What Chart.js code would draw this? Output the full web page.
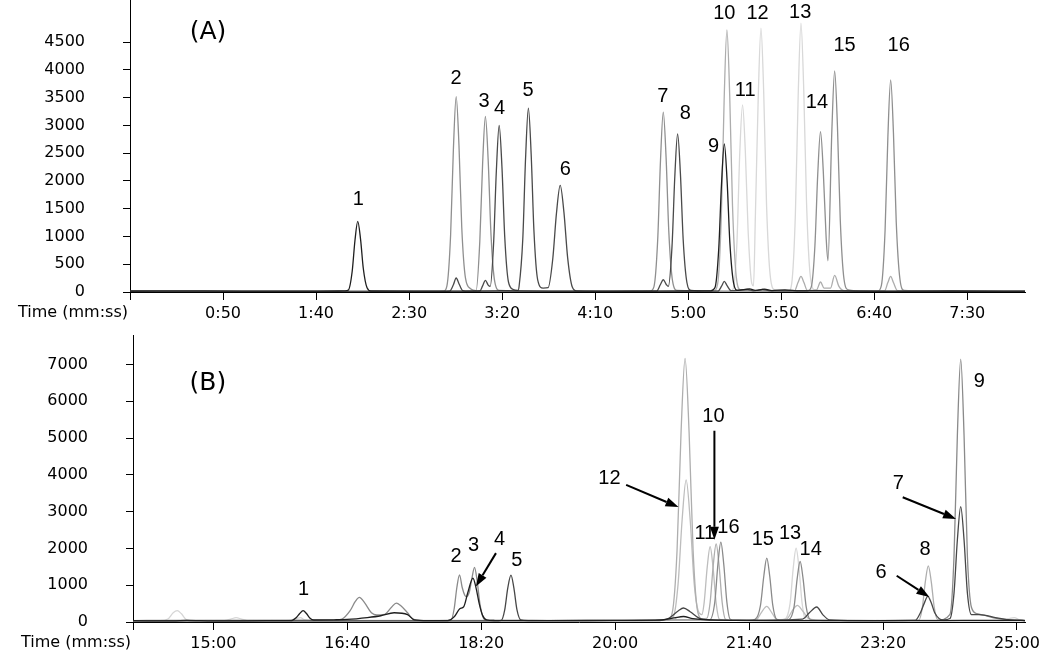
<!DOCTYPE html>
<html>
<head>
<meta charset="utf-8">
<script src="https://cdn.jsdelivr.net/npm/chart.js@4.4.1/dist/chart.umd.min.js"></script>
<style>
  body { margin: 0; background: #fff; }
  canvas { position: absolute; left: 0; }
  #chartA { top: 0; }
  #chartB { top: 327px; }
</style>
</head>
<body>
<canvas id="chartA" width="1050" height="327"></canvas>
<canvas id="chartB" width="1050" height="327"></canvas>
<script>
// ---- panel (A): time in seconds, intensity ----
const aXTicks = [0, 50, 100, 150, 200, 250, 300, 350, 400, 450];
const aYTicks = [0, 500, 1000, 1500, 2000, 2500, 3000, 3500, 4000, 4500];

const aBlack = [[0,18],[40,20],[80,15],[112,18],[115.5,20],
  [117.4,38],[119.4,369],[120.9,928],[122.4,1271],[123.9,953],[125.4,419],[127.4,76],[129.5,18],
  [160,15],[200,20],[250,15],[300,18],[312,20],
  [314.4,80],[316.4,774],[317.9,1948],[319.4,2669],[320.9,2002],[322.4,881],[324.4,160],[326.5,30],
  [333,55],[336,30],[341,50],[345,25],[352,40],[360,20],[400,15],[440,18],[481,15]];

const aDark = [[0,12],[100,10],[165,12],[170,12],
  [171.8,15],[173.8,130],[175.3,252],[176.8,150],[178.8,25],[182,15],
  [188,18],[189.5,110],[191,209],[192.5,125],[193.6,100],
  [195.4,870],[196.9,2189],[198.4,2999],[199.9,2249],[201.4,990],[203.4,180],[206,45],[208.5,30],
  [209.1,99],[211.1,960],[212.6,2417],[214.1,3311],[215.6,2483],[217.1,1093],[219.1,220],[222,70],
  [224.7,77],[227.2,595],[229.2,1420],[231.2,1919],[233.2,1440],[235.2,620],[237.7,90],[240,20],
  [260,12],[280,15],
  [283,15],[285,130],[286.6,221],[288.2,135],[289.3,100],
  [291.3,826],[292.8,2080],[294.3,2849],[295.8,2137],[297.3,940],[299.3,171],[301.5,30],
  [310,15],
  [316,15],[318,110],[319.4,191],[320.8,120],[323,25],
  [332,45],[335,20],[340,45],[344,20],[370,25],[400,12],[481,12]];

const aMid = [[0,10],[120,12],[166,12],[168.5,14],
  [170.3,106],[172.3,1021],[173.8,2570],[175.3,3521],[176.8,2641],[178.3,1162],[180.3,250],[183,60],[186,25],
  [188,917],[189.5,2307],[191,3161],[192.5,2371],[194,1043],[196,190],[198.5,30],
  [240,12],[279.5,14],
  [281.6,97],[283.6,940],[285.1,2365],[286.6,3240],[288.1,2430],[289.6,1069],[291.6,194],[294,30],
  [340,15],[364,16],
  [366.1,87],[368.1,838],[369.6,2110],[371.1,2890],[372.6,2168],[374.1,1000],[375.1,563],
  [377.2,2907],[378.7,3983],[380.2,2987],[381.7,1314],[383.7,239],[386,40],
  [395,15],[401.8,16],
  [403.8,115],[405.8,1108],[407.3,2789],[408.8,3821],[410.3,2866],[411.8,1261],[413.8,229],[416,30],
  [440,12],[481,12]];

const aLight = [[0,10],[200,10],[313.5,12],
  [315.8,142],[317.8,1369],[319.3,3446],[320.8,4721],[322.3,3541],[323.8,1558],[325.8,283],[328,40],
  [350,15],[357,15],[359,170],[360.6,281],[362.2,170],[364,30],
  [369,40],[371.1,180],[373,70],[376.5,70],[378.7,300],[381,100],[384,20],
  [405.5,20],[407.3,170],[408.8,281],[410.3,170],[412.5,25],[481,10]];

const aPale = [[0,10],[200,10],[322,10],
  [324.2,60],[326.2,900],[327.7,2500],[329.2,3371],[330.7,2530],[332.2,1100],[334.2,150],[335.1,110],
  [336.1,1378],[337.6,3468],[339.1,4751],[340.6,3563],[342.1,1568],[344.1,285],[346.5,40],
  [352,15],[354,16],
  [355.6,145],[357.6,1404],[359.1,3534],[360.6,4841],[362.1,3631],[363.6,1598],[365.6,290],[368,40],
  [400,10],[481,10]];

const aLabels = [['1',122.7,1661],['2',175.3,3839],['3',190.3,3431],['4',198.6,3299],['5',213.9,3629],
  ['6',233.9,2201],['7',286.4,3521],['8',298.4,3222],['9',313.6,2621],['10',319.4,5022],
  ['11',330.6,3629],['12',337.3,5022],['13',360.2,5040],['14',369.2,3413],['15',384.0,4438],['16',413.1,4438]];

// ---- panel (B) ----
const bXTicks = [840, 900, 1000, 1100, 1200, 1300, 1400, 1500];
const bYTicks = [0, 1000, 2000, 3000, 4000, 5000, 6000, 7000];

const bBlack = [[840,35],[870,30],[880,45],[900,30],[940,35],[958,40],
  [959,45],[962,120],[964.5,230],[967,307],[969.5,230],[972,110],[975,55],
  [990,60],[1000,70],[1015,120],[1025,170],[1035,252],[1045,200],[1050,60],[1060,40],
  [1075,40],[1080,150],[1084,360],[1087,420],[1090,800],[1093.8,1194],[1096,950],[1098.5,500],[1101,180],[1104,60],[1110,40],
  [1150,35],[1200,45],[1235,60],[1244,110],[1251,150],[1258,90],[1280,50],[1330,40],[1380,35],[1440,40],[1500,45],[1506,40]];

const bDark = [[840,30],[1110,30],
  [1115,45],[1117.5,320],[1119.8,918],[1122.2,1275],[1124.4,918],[1126.7,330],[1129.5,60],[1135,40],
  [1230,40],[1240,100],[1247,300],[1251,380],[1256,280],[1263,100],[1275,50],
  [1300,45],[1340,80],[1345,250],[1350.5,407],[1355,200],[1360,60],[1380,40],
  [1424,45],[1428,260],[1430.9,520],[1433.4,695],[1436,520],[1438.5,260],[1442,90],[1445,60],
  [1450,94],[1453,784],[1455.5,2227],[1458,3137],[1460.5,2227],[1463,784],[1466,200],[1472,200],[1485,110],[1495,60],[1506,40]];

const bMid = [[840,40],[870,45],[990,50],
  [996,80],[1002,300],[1006,560],[1009,668],[1013,520],[1018,250],[1022,190],
  [1028,210],[1033,400],[1036.6,515],[1040,440],[1045,250],[1049,80],[1055,40],
  [1077.3,45],[1079.8,360],[1081.8,937],[1083.8,1283],[1085.8,937],[1087.8,720],[1088.8,690],
  [1091,800],[1093,1180],[1095,1482],[1097,1100],[1099,500],[1101.5,120],[1104,45],
  [1150,40],[1200,45],[1240,60],
  [1270.5,60],[1274.4,543],[1276.7,1562],[1278.9,2170],[1281.1,1562],[1283.4,543],[1285.9,76],[1290,50],
  [1300,45],[1304.5,70],[1308.5,450],[1311,1250],[1313.2,1736],[1315.4,1250],[1317.7,450],[1320.7,70],[1326,45],
  [1329.5,60],[1333.6,420],[1335.9,1180],[1338.1,1644],[1340.3,1180],[1342.6,420],[1345.6,70],[1350,50],
  [1400,40],[1440,45],
  [1450,210],[1453,1786],[1455.5,5071],[1458,7143],[1460.5,5071],[1463,1786],[1466,400],[1470,230],[1476,180],[1485,100],[1495,60],[1506,45]];

const bLight = [[840,30],[1200,35],[1230,45],
  [1239.2,60],[1242.7,265],[1246.2,1934],[1249.2,5157],[1252.2,7162],[1255.2,5157],[1258.2,1934],[1261.7,265],[1265,90],
  [1268.4,100],[1270.9,531],[1273.2,1529],[1275.4,2124],[1277.6,1529],[1279.9,531],[1282.4,74],[1288,45],
  [1300,40],[1400,40],
  [1426.8,53],[1429.3,382],[1431.6,1099],[1433.8,1527],[1436,1099],[1438.3,382],[1440.8,60],[1446,40],[1506,35]];

const bLight2 = [[840,35],[1230,45],
  [1240,60],[1243.5,143],[1247,1042],[1250,2780],[1253,3861],[1256,2780],[1259,1042],[1262,300],[1264.7,200],
  [1266.4,513],[1268.7,1477],[1270.9,2051],[1273.1,1477],[1275.4,513],[1277.9,72],[1285,45],
  [1305,50],[1309,250],[1313.2,423],[1317,250],[1321,60],[1328,80],[1333,350],[1336,450],[1340,300],[1345,80],[1360,40],[1506,35]];

const bPale = [[840,30],[860,35],[866,80],[870,250],[873,307],[876,230],[880,60],[886,35],
  [908,35],[913,80],[917,117],[921,80],[926,35],[955,35],[962,90],[965,120],[968,60],[975,35],
  [1000,40],[1300,45],
  [1326.1,70],[1330.6,502],[1332.9,1445],[1335.1,2007],[1337.3,1445],[1339.6,502],[1342.1,70],[1348,45],
  [1490,40],[1494,90],[1498,120],[1502,60],[1506,40]];

const bLabels = [['1',967.4,876],['2',1081.3,1780],['3',1094.3,2070],['4',1113.7,2252],['5',1126.6,1671],
  ['12',1195.7,3907],['10',1273.4,5597],['11',1266.9,2415],['16',1284.6,2577],['15',1310.2,2252],
  ['13',1330.6,2396],['14',1346,1962],['8',1431.3,1962],['6',1398.5,1346],['7',1411.4,3771],['9',1471.9,6527]];

// arrows: [fromT, fromV, toT, toV]
const bArrows = [[1208.2,3725,1247.3,3124],[1111,1872,1096,966],[1274.1,5198,1274.1,2233],
  [1414.7,3391,1454.5,2802],[1410.2,1256,1434.6,678]];

function mmss(s) {
  const m = Math.floor(s / 60);
  const r = Math.round(s - m * 60);
  return m + ':' + String(r).padStart(2, '0');
}

function annot(tag, tagAt, labels, arrows) {
  return {
    id: 'annot',
    afterDatasetsDraw(chart) {
      const { ctx, chartArea, scales: { x, y } } = chart;
      ctx.save();
      ctx.fillStyle = '#000';
      ctx.strokeStyle = '#000';
      ctx.textAlign = 'center';
      ctx.textBaseline = 'middle';
      ctx.font = '20px "Liberation Sans", Arial, sans-serif';
      labels.forEach(([txt, t, v]) => ctx.fillText(txt, x.getPixelForValue(t), y.getPixelForValue(v)));

      ctx.lineWidth = 2;
      arrows.forEach(([t0, v0, t1, v1]) => {
        const x0 = x.getPixelForValue(t0), y0 = y.getPixelForValue(v0);
        const x1 = x.getPixelForValue(t1), y1 = y.getPixelForValue(v1);
        const ang = Math.atan2(y1 - y0, x1 - x0);
        const len = 13, hw = 4.5;
        const bx = x1 - len * Math.cos(ang), by = y1 - len * Math.sin(ang);
        ctx.beginPath();
        ctx.moveTo(x0, y0);
        ctx.lineTo(bx, by);
        ctx.stroke();
        ctx.beginPath();
        ctx.moveTo(x1, y1);
        ctx.lineTo(bx + hw * Math.sin(ang), by - hw * Math.cos(ang));
        ctx.lineTo(bx - hw * Math.sin(ang), by + hw * Math.cos(ang));
        ctx.closePath();
        ctx.fill();
      });

      ctx.font = '25px "DejaVu Sans", Verdana, sans-serif';
      ctx.fillText(tag, x.getPixelForValue(tagAt[0]), y.getPixelForValue(tagAt[1]));

      ctx.font = '16px "DejaVu Sans", Verdana, sans-serif';
      ctx.textAlign = 'right';
      ctx.fillText('Time (mm:ss)', chartArea.left - 2, chartArea.bottom + 21);
      ctx.restore();
    }
  };
}

const tickFont = { family: '"DejaVu Sans", Verdana, sans-serif', size: 16 };

function makePanel(id, traces, xMin, xMax, xTicks, yMax, yTicks, padLeft, padTop, xHeight, plugin) {
  return new Chart(document.getElementById(id), {
    type: 'line',
    data: {
      datasets: traces.map(([pts, color]) => ({
        data: pts.map(p => ({ x: p[0], y: p[1] })),
        borderColor: color,
        borderWidth: 1.3,
        pointRadius: 0,
        fill: false,
        cubicInterpolationMode: 'monotone'
      }))
    },
    options: {
      responsive: false,
      animation: false,
      events: [],
      layout: { padding: { left: padLeft, right: 25, top: padTop, bottom: 0 } },
      plugins: { legend: { display: false }, tooltip: { enabled: false } },
      scales: {
        x: {
          type: 'linear', min: xMin, max: xMax,
          afterBuildTicks: s => { s.ticks = xTicks.map(v => ({ value: v })); },
          afterFit: s => { s.height = xHeight; s.paddingLeft = 0; s.paddingRight = 0; },
          ticks: { callback: v => v === xMin ? '' : mmss(v), autoSkip: false, maxRotation: 0, font: tickFont, color: '#000', padding: 4 },
          grid: { drawOnChartArea: false, tickLength: 8, color: '#000' },
          border: { color: '#000', width: 1 }
        },
        y: {
          min: 0, max: yMax,
          afterBuildTicks: s => { s.ticks = yTicks.map(v => ({ value: v })); },
          afterFit: s => { s.width = 130; s.paddingTop = 0; s.paddingBottom = 0; },
          ticks: { callback: v => String(v), font: tickFont, color: '#000', padding: 38 },
          grid: { drawOnChartArea: false, tickLength: 7, color: '#000' },
          border: { color: '#000', width: 1 }
        }
      }
    },
    plugins: [plugin]
  });
}

makePanel('chartA',
  [[aBlack, '#1e1e1e'], [aDark, '#4a4a4a'], [aMid, '#8f8f8f'], [aLight, '#adadad'], [aPale, '#d8d8d8']],
  0, 481, aXTicks, 5260, aYTicks, 0, 0, 35,
  annot('(A)', [41.9, 4667], aLabels, []));

makePanel('chartB',
  [[bBlack, '#1e1e1e'], [bDark, '#474747'], [bMid, '#8a8a8a'], [bLight, '#aeaeae'], [bLight2, '#bdbdbd'], [bPale, '#d6d6d6']],
  840, 1506, bXTicks, 7800, bYTicks, 3, 8, 32,
  annot('(B)', [895.9, 6484], bLabels, bArrows));
</script>
</body>
</html>
